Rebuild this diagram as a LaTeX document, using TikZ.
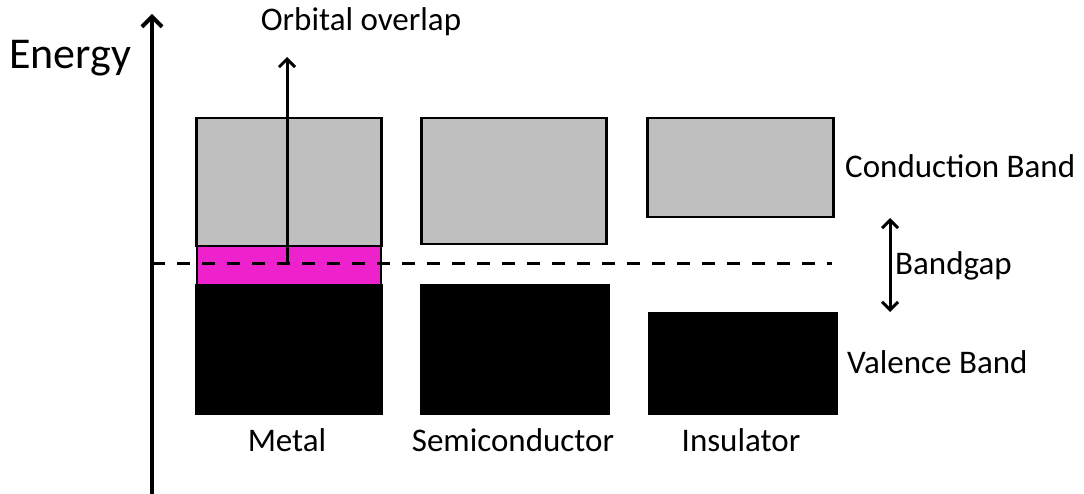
\documentclass[tikz,border=0pt]{standalone}
\usepackage{fontspec}
\setmainfont{Carlito}
\usetikzlibrary{arrows.meta}
\begin{document}
\begin{tikzpicture}[x=1pt,y=-1pt,
  band/.style={draw=black,line width=2.5pt,inner sep=0pt,anchor=north west},
  cband/.style={band,fill=cgray},
  vband/.style={band,fill=black},
  lbl/.style={font=\fontsize{33}{38}\selectfont,inner sep=0pt},
  tip/.style={Straight Barb[length=8pt,width=16pt,line width=3pt]},
  arr/.style={line width=3pt,-{Straight Barb[length=8pt,width=16pt,line width=3pt]}}
]
\definecolor{cgray}{HTML}{BFBFBF}
\definecolor{mag}{HTML}{EE22CC}
\useasboundingbox (0,0) rectangle (1084,494);
% axis
\coordinate (axb) at (152,494);
\coordinate (axt) at (152,14);
\draw[line width=4pt,-{Straight Barb[length=10pt,width=20pt,line width=4pt]}] (axb) -- (axt);
\node[lbl,font=\fontsize{44}{48}\selectfont,anchor=center] (energy) at (70,58) {Energy};
% metal
\node[cband,minimum width=185pt,minimum height=128pt] (mc) at (195,117) {};
\node[vband,minimum width=185pt,minimum height=128pt] (mv) at (195,284) {};
\node[band,fill=mag,minimum width=184pt,minimum height=39pt] (mo) at (195.5,245) {};
% semiconductor
\node[cband,minimum width=185pt,minimum height=126pt] (sc) at (420,117) {};
\node[vband,minimum width=187pt,minimum height=128pt] (sv) at (420,284) {};
% insulator
\node[cband,minimum width=186pt,minimum height=99pt] (ic) at (646,117) {};
\node[vband,minimum width=187pt,minimum height=100pt] (iv) at (648,312) {};
% fermi dashed
\coordinate (fl) at (152,264);
\coordinate (fr) at (832,264);
\draw[line width=3pt,dash pattern=on 13pt off 12pt] (fl) -- (fr);
% orbital overlap arrow
\coordinate (oa) at (287,265);
\coordinate (ob) at (287,57);
\draw[arr] (oa) -- (ob);
\node[lbl,anchor=center] (ool) at (361,22) {Orbital overlap};
% bandgap arrow
\coordinate (bga) at (890,218);
\coordinate (bgb) at (890,312);
\draw[line width=3pt,{Straight Barb[length=8pt,width=16pt,line width=3pt]}-{Straight Barb[length=8pt,width=16pt,line width=3pt]}] (bga) -- (bgb);
% labels
\node[lbl,anchor=west] (cbl) at (845,166) {Conduction Band};
\node[lbl,anchor=west] (bgl) at (895,266) {Bandgap};
\node[lbl,anchor=west] (vbl) at (847,362) {Valence Band};
\node[lbl,anchor=center] (ml) at (287,440) {Metal};
\node[lbl,anchor=center] (sl) at (513,440) {Semiconductor};
\node[lbl,anchor=center] (il) at (741,440) {Insulator};
\end{tikzpicture}
\end{document}
